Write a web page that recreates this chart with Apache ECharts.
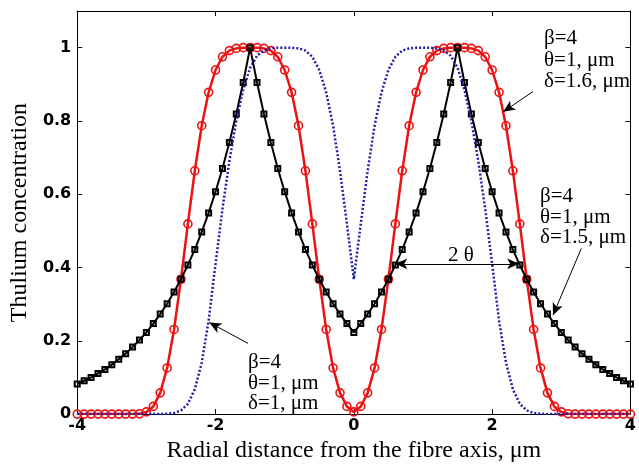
<!DOCTYPE html>
<html>
<head>
<meta charset="utf-8">
<script src="https://cdn.jsdelivr.net/npm/echarts@6/dist/echarts.min.js"></script>
<style>
html,body{margin:0;padding:0;background:#fff;}
#chart{width:639px;height:468px;}
</style>
</head>
<body>
<div id="chart"></div>
<script>
// Radial positions (µm)
const radius = [-4.0,-3.9,-3.8,-3.7,-3.6,-3.5,-3.4,-3.3,-3.2,-3.1,-3.0,-2.9,-2.8,-2.7,-2.6,-2.5,-2.4,-2.3,-2.2,-2.1,-2.0,-1.9,-1.8,-1.7,-1.6,-1.5,-1.4,-1.3,-1.2,-1.1,-1.0,-0.9,-0.8,-0.7,-0.6,-0.5,-0.4,-0.3,-0.2,-0.1,0.0,0.1,0.2,0.3,0.4,0.5,0.6,0.7,0.8,0.9,1.0,1.1,1.2,1.3,1.4,1.5,1.6,1.7,1.8,1.9,2.0,2.1,2.2,2.3,2.4,2.5,2.6,2.7,2.8,2.9,3.0,3.1,3.2,3.3,3.4,3.5,3.6,3.7,3.8,3.9,4.0];

// delta = 1.5 µm (black, squares)
const conc15 = [0.082,0.091,0.100,0.111,0.122,0.135,0.150,0.165,0.183,0.202,0.223,0.247,0.273,0.301,0.333,0.368,0.407,0.449,0.497,0.549,0.607,0.670,0.741,0.819,0.905,1.000,0.905,0.819,0.741,0.670,0.607,0.549,0.497,0.449,0.407,0.368,0.333,0.301,0.273,0.247,0.223,0.247,0.273,0.301,0.333,0.368,0.407,0.449,0.497,0.549,0.607,0.670,0.741,0.819,0.905,1.000,0.905,0.819,0.741,0.670,0.607,0.549,0.497,0.449,0.407,0.368,0.333,0.301,0.273,0.247,0.223,0.202,0.183,0.165,0.150,0.135,0.122,0.111,0.100,0.091,0.082];

// delta = 1.6 µm (red, circles)
const conc16 = [0,0,0,0,0,0,0,0,0,0.001,0.006,0.021,0.058,0.126,0.231,0.368,0.519,0.664,0.787,0.878,0.939,0.975,0.992,0.998,1.000,1.000,1.000,0.998,0.992,0.975,0.939,0.878,0.787,0.664,0.519,0.368,0.231,0.126,0.058,0.021,0.006,0.021,0.058,0.126,0.231,0.368,0.519,0.664,0.787,0.878,0.939,0.975,0.992,0.998,1.000,1.000,1.000,0.998,0.992,0.975,0.939,0.878,0.787,0.664,0.519,0.368,0.231,0.126,0.058,0.021,0.006,0.001,0,0,0,0,0,0,0,0,0];

// delta = 1 µm (blue, dotted)
const conc10 = [0,0,0,0,0,0,0,0,0,0,0,0,0,0.001,0.003,0.010,0.028,0.068,0.140,0.255,0.410,0.560,0.690,0.800,0.885,0.945,0.978,0.993,0.998,1.000,1.000,1.000,0.998,0.992,0.975,0.939,0.878,0.787,0.664,0.519,0.368,0.519,0.664,0.787,0.878,0.939,0.975,0.992,0.998,1.000,1.000,1.000,0.998,0.993,0.978,0.945,0.885,0.800,0.690,0.560,0.410,0.255,0.140,0.068,0.028,0.010,0.003,0.001,0,0,0,0,0,0,0,0,0,0,0,0,0];

const xTicks = [-4, -2, 0, 2, 4];
const yTicks = [0, 0.2, 0.4, 0.6, 0.8, 1];

const pairs = (ys) => radius.map((x, i) => [x, ys[i]]);

const serif = "'Liberation Serif','Times New Roman',serif";
const sans = "'DejaVu Sans',sans-serif";
const annFont = '21px ' + serif;

const chart = echarts.init(document.getElementById('chart'), null, {renderer: 'canvas'});

const axisCommon = {
  axisLine: {show: true, onZero: false, lineStyle: {color: '#000', width: 1}},
  axisTick: {show: true, inside: true, length: 5, lineStyle: {color: '#000', width: 1}},
  splitLine: {show: false}
};

chart.setOption({
  animation: false,
  backgroundColor: '#fff',
  grid: {left: 77, right: 2, top: 11, bottom: 48, containLabel: false},
  xAxis: [
    Object.assign({
      type: 'value', min: xTicks[0], max: xTicks[xTicks.length - 1], interval: 2, position: 'bottom',
      name: 'Radial distance from the fibre axis, \u03bcm', nameLocation: 'middle', nameGap: 21,
      nameTextStyle: {fontFamily: serif, fontSize: 24, color: '#000'},
      axisLabel: {fontFamily: sans, fontWeight: 'bold', fontSize: 16, color: '#000', margin: 4}
    }, axisCommon),
    Object.assign({
      type: 'value', min: xTicks[0], max: xTicks[xTicks.length - 1], interval: 2, position: 'top',
      axisLabel: {show: false}
    }, axisCommon)
  ],
  yAxis: [
    Object.assign({
      type: 'value', min: 0, max: 1.1, interval: 0.2, position: 'left',
      name: 'Thulium concentration', nameLocation: 'middle', nameGap: 43,
      nameTextStyle: {fontFamily: serif, fontSize: 24, color: '#000'},
      axisLabel: {fontFamily: sans, fontWeight: 'bold', fontSize: 16, color: '#000', margin: 6, showMaxLabel: false}
    }, axisCommon),
    Object.assign({
      type: 'value', min: 0, max: 1.1, interval: 0.2, position: 'right',
      axisLabel: {show: false}
    }, axisCommon)
  ],
  series: [
    {
      type: 'line', name: 'delta=1.6', data: pairs(conc16),
      symbol: 'circle', symbolSize: 8, showAllSymbol: true,
      lineStyle: {color: '#ee1111', width: 2.5},
      itemStyle: {color: 'rgba(255,255,255,0)', borderColor: '#ee1111', borderWidth: 1.6},
      z: 2
    },
    {
      type: 'line', name: 'delta=1.5', data: pairs(conc15),
      symbol: 'rect', symbolSize: 5, showAllSymbol: true,
      lineStyle: {color: '#000', width: 2},
      itemStyle: {color: 'rgba(255,255,255,0)', borderColor: '#000', borderWidth: 2},
      z: 3,
      markLine: {
        silent: true, symbol: ['none', 'arrow'], symbolSize: [8, 12], precision: 3,
        label: {show: false},
        lineStyle: {color: '#000', width: 1, type: 'solid'},
        emphasis: {disabled: true},
        data: [
          [{coord: [2.59, 0.88]}, {coord: [2.16, 0.825]}],
          [{coord: [3.29, 0.452]}, {coord: [2.88, 0.27]}],
          [{coord: [-1.53, 0.193]}, {coord: [-2.09, 0.25]}],
          [{coord: [0.6, 0.41], symbol: 'arrow'}, {coord: [2.39, 0.41]}]
        ]
      }
    },
    {
      type: 'line', name: 'delta=1', data: pairs(conc10),
      symbol: 'none',
      lineStyle: {color: '#1e1ea6', width: 2.5, type: [2, 2]},
      z: 4
    }
  ],
  graphic: [
    {type: 'text', left: 544, top: 28, z: 10, style: {text: '\u03b2=4\n\u03b8=1, \u03bcm\n\u03b4=1.6, \u03bcm', font: annFont, fill: '#000', lineHeight: 21.5}},
    {type: 'text', left: 540, top: 186, z: 10, style: {text: '\u03b2=4\n\u03b8=1, \u03bcm\n\u03b4=1.5, \u03bcm', font: annFont, fill: '#000', lineHeight: 20.5}},
    {type: 'text', left: 248, top: 352, z: 10, style: {text: '\u03b2=4\n\u03b8=1, \u03bcm\n\u03b4=1, \u03bcm', font: annFont, fill: '#000', lineHeight: 20.5}},
    {type: 'text', left: 448, top: 245, z: 10, style: {text: '2 \u03b8', font: annFont, fill: '#000'}}
  ]
});
</script>
</body>
</html>
